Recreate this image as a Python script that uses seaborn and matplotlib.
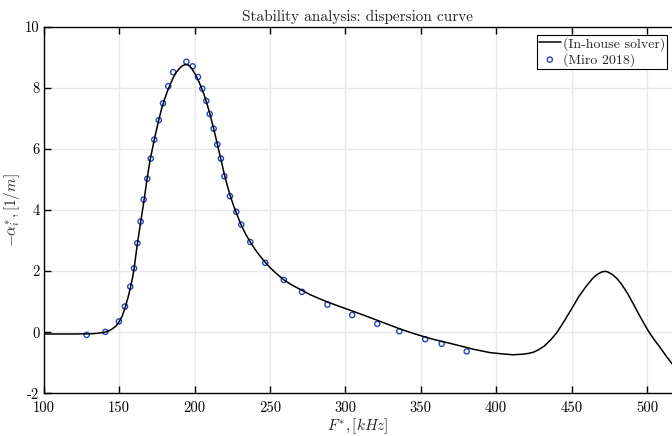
import matplotlib
matplotlib.use("Agg")
import matplotlib.pyplot as plt
import seaborn as sns
import pandas as pd

# Solver curve
solver_f = [100, 110, 120, 130, 135, 140, 143, 145, 148, 150, 152, 154, 156, 157.5, 159, 160, 162,
            164.3, 166.5, 168.5, 170.5, 172.5, 174, 176, 178, 180, 182, 184, 186, 188, 190, 192,
            194, 196, 198, 200, 202, 204, 206, 208, 210, 212.5, 215.4, 217.5, 220, 222, 224,
            226, 228, 231, 234, 237, 240, 243, 247, 250, 254, 259, 264, 270, 277, 285, 294, 303, 312, 320,
            328, 336, 345, 355, 362, 369, 377, 385, 391, 396, 404, 411, 418, 422, 425, 428, 432, 436, 440, 445,
            450, 455, 460, 464, 467, 470, 472, 474, 477, 480, 483, 487, 491, 496, 501, 505, 509, 513, 516.6]
solver_a = [-0.06, -0.06, -0.06, -0.055, -0.04, -0.01, 0.04, 0.09, 0.2, 0.34, 0.52, 0.8, 1.15, 1.45, 1.8, 2.1, 2.85,
            3.6, 4.3, 5.0, 5.62, 6.1, 6.45, 6.88, 7.28, 7.6, 7.88, 8.12, 8.34, 8.51, 8.63, 8.72,
            8.76, 8.74, 8.64, 8.48, 8.3, 8.07, 7.82, 7.52, 7.18, 6.7, 6.1, 5.66, 5.12, 4.75, 4.42,
            4.13, 3.87, 3.5, 3.2, 2.95, 2.72, 2.52, 2.28, 2.12, 1.93, 1.72, 1.56, 1.40, 1.22, 1.05, 0.88, 0.72, 0.56, 0.41,
            0.26, 0.11, -0.04, -0.19, -0.28, -0.36, -0.46, -0.56, -0.62, -0.67, -0.71, -0.74, -0.72, -0.69, -0.65, -0.58, -0.45, -0.26, -0.03, 0.35,
            0.76, 1.18, 1.52, 1.76, 1.89, 1.97, 1.99, 1.97, 1.89, 1.76, 1.58, 1.28, 0.92, 0.46, 0.03, -0.26, -0.52, -0.8, -1.03]

# Reference data points (Miro 2018)
miro_f = [128.5, 140.9, 149.9, 153.9, 157.4, 159.9, 162.1, 164.3, 166.3, 168.7, 171.0, 173.3,
          176.3, 179.1, 182.6, 185.9, 194.6, 198.8, 202.3, 205.2, 207.8, 210.1, 212.7, 215.1,
          217.5, 219.8, 223.5, 227.7, 231.0, 237.0, 246.9, 259.2, 271.3, 288.1, 304.6, 321.2,
          335.8, 353.0, 363.9, 380.5]
miro_a = [-0.09, 0.01, 0.35, 0.84, 1.49, 2.09, 2.91, 3.62, 4.34, 5.02, 5.68, 6.30,
          6.94, 7.49, 8.05, 8.51, 8.85, 8.70, 8.35, 7.97, 7.57, 7.14, 6.66, 6.14,
          5.68, 5.10, 4.45, 3.94, 3.52, 2.95, 2.27, 1.71, 1.32, 0.90, 0.56, 0.27,
          0.03, -0.23, -0.38, -0.63]

xticks = [100, 150, 200, 250, 300, 350, 400, 450, 500]
yticks = [-2, 0, 2, 4, 6, 8, 10]

sns.set_style("ticks")
plt.rcParams["font.family"] = ["cmr10", "DejaVu Serif"]
plt.rcParams["mathtext.fontset"] = "cm"
plt.rcParams["axes.unicode_minus"] = False
plt.rcParams["axes.formatter.use_mathtext"] = True

df_line = pd.DataFrame({"f": solver_f, "a": solver_a})
df_pts = pd.DataFrame({"f": miro_f, "a": miro_a})

fig = plt.figure(figsize=(6.72, 4.36), dpi=100)
ax = fig.add_axes([0.065, 0.098, 0.935, 0.841])

ax.grid(True, color="#e8e8e8", linewidth=1.0, linestyle="-")
ax.set_axisbelow(True)

sns.lineplot(data=df_line, x="f", y="a", ax=ax, color="black", linewidth=1.1,
             sort=False, estimator=None, label="(In-house solver)")
sns.scatterplot(data=df_pts, x="f", y="a", ax=ax, marker="o", s=14,
                facecolors="none", edgecolor="#2a44c0", linewidth=1.0,
                label="(Miro 2018)")

ax.set_xlim(100, 516.6)
ax.set_ylim(-2, 10)
ax.set_xticks(xticks)
ax.set_yticks(yticks)
ax.set_xticklabels([str(t) for t in xticks])
ax.set_yticklabels([str(t) for t in yticks])
ax.tick_params(direction="in", length=5, width=1.0, top=True, right=False,
               labelsize=10.5, colors="black")
ax.tick_params(axis="x", pad=5.5)
ax.tick_params(axis="y", pad=3)

for s in ["left", "bottom", "top"]:
    ax.spines[s].set_color("black")
    ax.spines[s].set_linewidth(1.0)
ax.spines["right"].set_visible(False)

ax.set_xlabel(r"$F^{*}, [kHz]$", fontsize=11, labelpad=1)
ax.set_ylabel(r"$-\alpha_i^{*}, [1/m]$", fontsize=11, labelpad=2)
ax.set_title("Stability analysis: dispersion curve", fontsize=11, pad=4)

leg = ax.legend(loc="upper right", bbox_to_anchor=(0.997, 0.985), fontsize=10,
                frameon=True, fancybox=False, framealpha=1, edgecolor="black",
                borderpad=0.15, handlelength=1.6, handletextpad=0.15, labelspacing=0.15,
                borderaxespad=0.2)
leg.get_frame().set_linewidth(0.8)

fig.savefig("out.png", dpi=100)
